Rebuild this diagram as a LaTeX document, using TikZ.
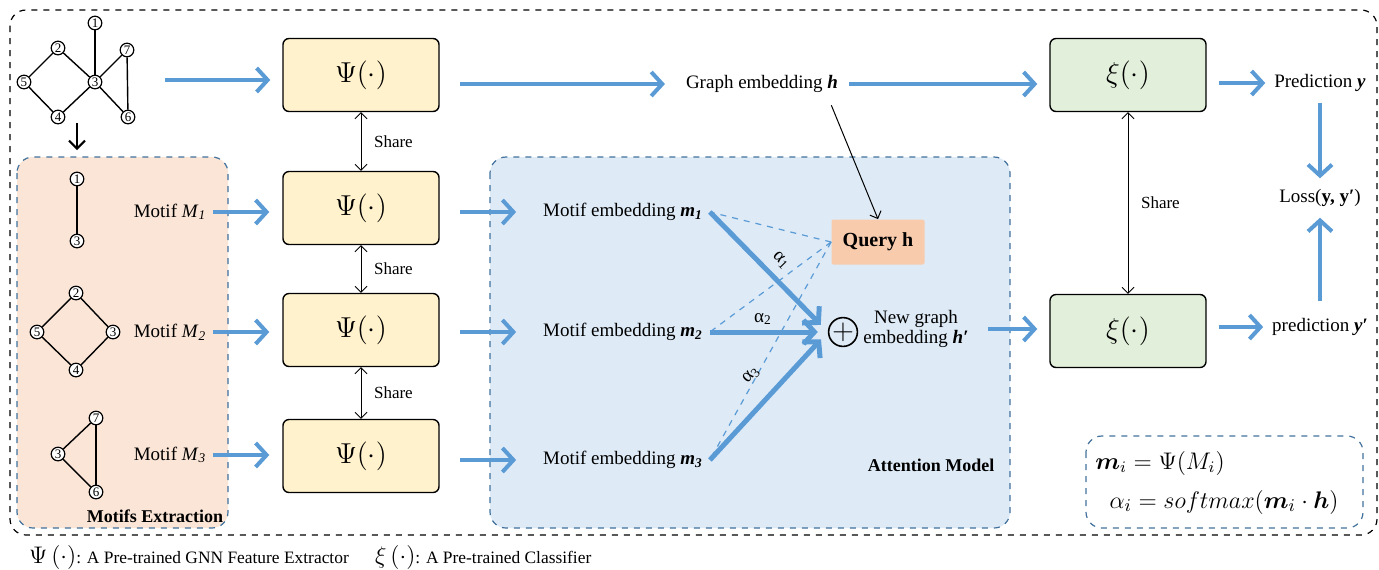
\documentclass[tikz,border=0pt]{standalone}
\usepackage{amsmath}
\usepackage{bm}
\usepackage{fontspec}
\setmainfont{Liberation Serif}
\usetikzlibrary{arrows.meta}
\definecolor{flowblue}{HTML}{5B9BD5}
\definecolor{edgeblue}{HTML}{41719C}
\definecolor{psifill}{HTML}{FFF2CC}
\definecolor{xifill}{HTML}{E2EFDA}
\definecolor{motiffill}{HTML}{FBE5D6}
\definecolor{attnfill}{HTML}{DEEBF7}
\definecolor{queryfill}{HTML}{F8CBAD}
\tikzset{
  vtx/.style={circle, draw, line width=0.6pt, fill=white, minimum size=6.8pt, inner sep=0pt, font=\fontsize{6.5}{6.5}\selectfont},
  gedge/.style={line width=0.7pt},
  flow/.style={draw=flowblue, line width=2pt, -{Straight Barb[length=5.5pt,width=12pt]}},
  share/.style={line width=0.4pt, {Straight Barb[length=3pt,width=6pt]}-{Straight Barb[length=3pt,width=6pt]}},
  fnbox/.style={draw, rounded corners=3pt, line width=0.7pt, minimum width=78pt, minimum height=36.5pt, font=\fontsize{15}{17}\selectfont},
  panel/.style={draw=edgeblue, dashed, rounded corners=8pt, line width=0.6pt},
  lbl/.style={font=\fontsize{9.5}{11}\selectfont},
  bold lbl/.style={font=\fontsize{9}{11}\selectfont\bfseries},
}
\newcommand{\bi}[1]{\textbf{\textit{#1}}}
\begin{document}
\begin{tikzpicture}[x=0.5pt,y=-0.5pt]
\useasboundingbox (0,0) rectangle (1379,569);
\draw [dashed, line width=0.6pt, rounded corners=8pt] (10,10) rectangle (1377,535);
\draw [panel, fill=motiffill] (17,157) rectangle (228,528);
\draw [panel, fill=attnfill] (490,157) rectangle (1010,528);
\draw [panel] (1086,436) rectangle (1363,528);
\node [bold lbl] (motifs) at (155,516) {Motifs Extraction};
\node [bold lbl] (attn) at (931,465) {Attention Model};

\foreach \n/\x/\y in {1/95/23, 2/58/48, 7/127/50, 5/24/82, 3/95/82, 4/58/117, 6/128/117}
  \node [vtx] (g\n) at (\x,\y) {\n};
\foreach \a/\b in {1/3, 2/5, 2/3, 5/4, 4/3, 3/7, 3/6, 7/6}
  \draw [gedge] (g\a) -- (g\b);
\foreach \n/\l/\x/\y in {a1/1/77/179, a3/3/77/241, b2/2/76/293, b5/5/37/332, b3/3/113/332, b4/4/76/370, c7/7/96/418, c3/3/58/454, c6/6/96/492}
  \node [vtx] (\n) at (\x,\y) {\l};
\foreach \a/\b in {a1/a3, b2/b5, b2/b3, b5/b4, b4/b3, c3/c7, c3/c6, c7/c6}
  \draw [gedge] (\a) -- (\b);
\coordinate (dtop) at (77,123);
\coordinate (dbot) at (77,150);
\draw [line width=1pt, -{Straight Barb[length=4pt,width=8pt]}] (dtop) -- (dbot);

\foreach \i/\y in {0/75, 1/208, 2/330, 3/456}
  \node [fnbox, fill=psifill] (psi\i) at (361,\y) {$\Psi(\cdot)$};
\foreach \a/\b in {0/1, 1/2, 2/3}
  \draw [share] (psi\a) -- (psi\b) node [midway, right=3pt, font=\fontsize{8.5}{10}\selectfont] (share\b) {Share};
\node [fnbox, fill=xifill] (xi0) at (1128,75) {$\xi(\cdot)$};
\node [fnbox, fill=xifill] (xi1) at (1128,331) {$\xi(\cdot)$};
\draw [share] (xi0) -- (xi1) node [midway, right=3pt, font=\fontsize{8.5}{10}\selectfont] (sharexi) {Share};

\coordinate (gin) at (165,80);
\draw [flow, shorten >=6pt] (gin) -- (gin -| psi0.west);
\foreach \i/\y in {1/212, 2/332, 3/455} {
  \node [lbl] (mot\i) at (170,\y) {Motif \textit{M}\textsubscript{\textit{\i}}};
  \draw [flow, shorten >=6.5pt] (mot\i.east) -- (mot\i.east -| psi\i.west);
}

\node [lbl] (gemb) at (762,84) {Graph embedding \bi{h}};
\draw [flow, shorten <=10pt, shorten >=7pt] (gemb.west -| psi0.east) -- (gemb.west);
\draw [flow, shorten <=2pt, shorten >=6pt] (gemb.east) -- (gemb.east -| xi0.west);
\node [lbl] (pred) at (1320,83) {Prediction \bi{y}};
\node [lbl] (loss) at (1320,198) {Loss(\textbf{y, y′})};
\node [lbl] (predp) at (1320,327) {prediction \bi{y′}};
\draw [flow, shorten <=6pt, shorten >=1pt] (xi0.east |- pred) -- (pred.west);
\draw [flow, shorten <=6pt, shorten >=1pt] (xi1.east |- predp) -- (predp.west);
\draw [flow, shorten <=2pt, shorten >=2pt] (pred.south) -- (loss.north);
\draw [flow, shorten <=5pt, shorten >=2pt] (predp.north) -- (loss.south);

\foreach \i/\y in {1/212, 2/332, 3/460} {
  \node [lbl] (memb\i) at (623,\y) {Motif embedding \bi{m}\textsubscript{\bi{\i}}};
  \draw [flow, shorten <=10pt, shorten >=10pt] (psi\i.east |- memb\i) -- (memb\i.west);
}
\node [fill=queryfill, rounded corners=1pt, minimum width=46.5pt, minimum height=22.5pt, font=\fontsize{10}{12}\selectfont\bfseries] (query) at (878,242) {Query h};
\node [circle, draw, line width=0.8pt, minimum size=14pt, inner sep=0pt] (plus) at (843,332) {\fontsize{15}{15}\selectfont$+$};
\node [lbl, align=center] (newemb) at (916,329) {New graph\\[-1pt]embedding \bi{h′}};
\draw [flow, shorten <=6pt, shorten >=6pt] (newemb.east) -- (newemb.east -| xi1.west);
\draw [line width=0.5pt, shorten <=3pt, -{Straight Barb[length=3pt,width=6pt]}] ([xshift=-8pt]gemb.south east) -- (query.north);
\foreach \i in {1,2,3}
  \draw [draw=flowblue, dashed, line width=0.6pt] (query.west) -- (memb\i.east);
\draw [flow, line width=2.5pt, shorten >=5pt] (memb1.east) -- (plus.west) node [pos=0.5, sloped, above=1pt, text=black, lbl] (al1) {α\textsubscript{1}};
\draw [flow, line width=2.5pt, shorten >=5pt] (memb2.east) -- (plus.west) node [pos=0.45, above=-1pt, text=black, lbl] (al2) {α\textsubscript{2}};
\draw [flow, line width=2.5pt, shorten >=5pt] (memb3.east) -- (plus.west) node [pos=0.52, sloped, above=6pt, text=black, lbl] (al3) {α\textsubscript{3}};

\node [font=\fontsize{12}{14}\selectfont] (f1) at (1160,463) {$\bm{m}_i = \Psi(M_i)$};
\node [font=\fontsize{12.5}{14}\selectfont] (f2) at (1224,502) {$\alpha_i = softmax(\bm{m}_i\cdot\bm{h})$};
\node [anchor=west, font=\fontsize{8.7}{11}\selectfont] (leg1) at (22,557) {{\fontsize{12}{12}\selectfont$\Psi\left(\cdot\right)$}: A Pre-trained GNN Feature Extractor};
\node [anchor=west, font=\fontsize{8.7}{11}\selectfont] (leg2) at (368,557) {{\fontsize{12}{12}\selectfont$\xi\left(\cdot\right)$}: A Pre-trained Classifier};
\end{tikzpicture}
\end{document}
